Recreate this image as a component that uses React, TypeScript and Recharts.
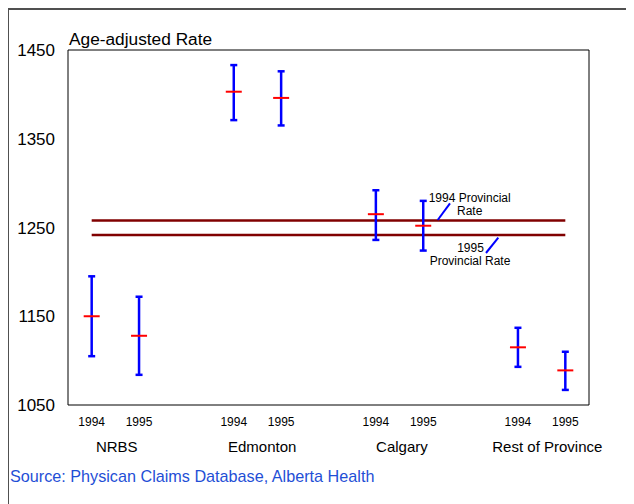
import React from "react";
import {
  ComposedChart,
  Scatter,
  ErrorBar,
  XAxis,
  YAxis,
  ReferenceLine,
  ReferenceArea,
} from "recharts";

// ---- data ----
const regions = ["NRBS", "Edmonton", "Calgary", "Rest of Province"];
const regionCenters = [1.53, 4.6, 7.55, 10.62];
const positions = [1, 2, 4, 5, 7, 8, 10, 11];
const years = ["1994", "1995", "1994", "1995", "1994", "1995", "1994", "1995"];
const means = [1150, 1128, 1403, 1396, 1265, 1252, 1115, 1089];
const upper = [1195, 1172, 1433, 1426, 1292, 1280, 1137, 1110];
const lower = [1105, 1084, 1371, 1365, 1236, 1224, 1093, 1067];
const yTicks = [1050, 1150, 1250, 1350, 1450];
const provincial1994 = 1258;
const provincial1995 = 1241.5;

const data = positions.map((x, i) => ({
  x,
  year: years[i],
  mean: means[i],
  err: [means[i] - lower[i], upper[i] - means[i]],
}));

const FONT = "'Liberation Sans', Arial, sans-serif";

const MeanMark = (props: any) => {
  const { cx, cy } = props;
  if (cx == null || cy == null) return null;
  return <line x1={cx - 8} x2={cx + 8} y1={cy} y2={cy} stroke="#ff0000" strokeWidth={2} />;
};

export default function App() {
  return (
    <div style={{ position: "relative", width: 626, height: 496, fontFamily: FONT }}>
      <ComposedChart
        width={626}
        height={496}
        data={data}
        margin={{ top: 42, right: 45, left: 0, bottom: 41 }}
      >
        <XAxis
          xAxisId={0}
          dataKey="x"
          type="number"
          domain={[0.5, 11.5]}
          allowDataOverflow
          ticks={positions}
          tickFormatter={(v: number) => years[positions.indexOf(v)] ?? ""}
          axisLine={false}
          tickLine={false}
          tickSize={0}
          tickMargin={12}
          height={28}
          interval={0}
          tick={{ fill: "#000", fontSize: 12, fontFamily: FONT }}
        />
        <XAxis
          xAxisId="group"
          dataKey="x"
          type="number"
          domain={[0.5, 11.5]}
          allowDataOverflow
          ticks={regionCenters}
          tickFormatter={(v: number) => regions[regionCenters.indexOf(v)] ?? ""}
          axisLine={false}
          tickLine={false}
          tickSize={0}
          tickMargin={8}
          height={30}
          interval={0}
          tick={{ fill: "#000", fontSize: 15, fontFamily: FONT }}
        />
        <YAxis
          type="number"
          domain={[1050, 1450]}
          allowDataOverflow
          ticks={yTicks}
          axisLine={false}
          tickLine={false}
          tickSize={0}
          tickMargin={13}
          width={60}
          interval={0}
          tick={{ fill: "#000", fontSize: 17, fontFamily: FONT }}
        />
        <ReferenceArea
          x1={0.5}
          x2={11.5}
          y1={1050}
          y2={1450}
          fill="none"
          fillOpacity={0}
          stroke="#000"
          strokeWidth={1}
        />
        <ReferenceLine
          segment={[
            { x: positions[0], y: provincial1994 },
            { x: positions[positions.length - 1], y: provincial1994 },
          ]}
          stroke="#800000"
          strokeWidth={2.5}
        />
        <ReferenceLine
          segment={[
            { x: positions[0], y: provincial1995 },
            { x: positions[positions.length - 1], y: provincial1995 },
          ]}
          stroke="#800000"
          strokeWidth={2.5}
        />
        <Scatter dataKey="mean" isAnimationActive={false} shape={<MeanMark />}>
          <ErrorBar
            dataKey="err"
            direction="y"
            stroke="#0000ff"
            strokeWidth={2.5}
            width={3.5}
            isAnimationActive={false}
          />
        </Scatter>
      </ComposedChart>
      <svg
        width={626}
        height={496}
        style={{ position: "absolute", left: 0, top: 0, overflow: "visible", pointerEvents: "none" }}
      >
        <line x1={0} y1={1} x2={640} y2={1} stroke="#505050" strokeWidth={2} />
        <line x1={0} y1={0} x2={0} y2={500} stroke="#505050" strokeWidth={2} />
        <text x={61} y={36.5} fontSize={17.3} fill="#000" fontFamily={FONT}>
          Age-adjusted Rate
        </text>
        <text x={461.7} y={193.5} fontSize={12} textAnchor="middle" fill="#000" fontFamily={FONT}>
          1994 Provincial
        </text>
        <text x={461.7} y={207} fontSize={12} textAnchor="middle" fill="#000" fontFamily={FONT}>
          Rate
        </text>
        <line x1={429.7} y1={212} x2={442} y2={195.3} stroke="#0000ff" strokeWidth={2} />
        <text x={462.5} y={244} fontSize={12} textAnchor="middle" fill="#000" fontFamily={FONT}>
          1995
        </text>
        <text x={462} y={257} fontSize={12} textAnchor="middle" fill="#000" fontFamily={FONT}>
          Provincial Rate
        </text>
        <line x1={478} y1={245} x2={490.3} y2={229.7} stroke="#0000ff" strokeWidth={2} />
        <text x={2} y={474} fontSize={16.2} fill="#1f4fd6" fontFamily={FONT}>
          Source: Physican Claims Database, Alberta Health
        </text>
      </svg>
    </div>
  );
}
